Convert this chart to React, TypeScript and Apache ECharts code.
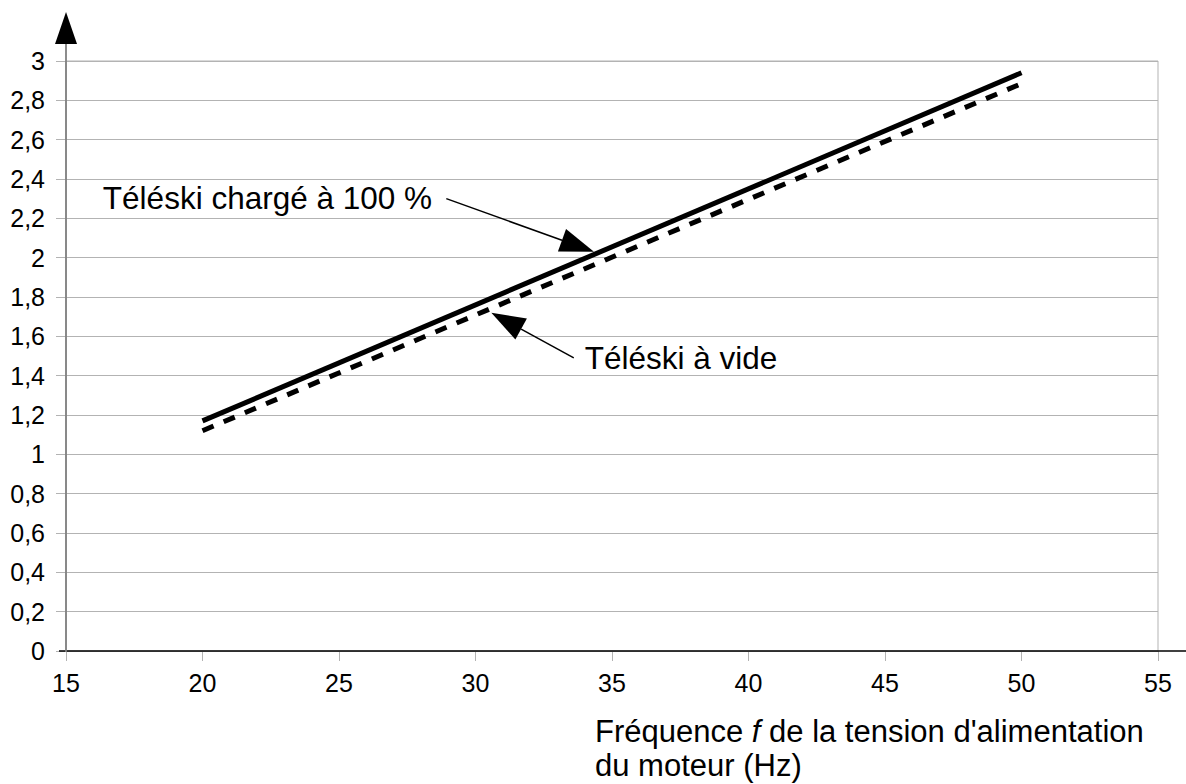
import React, { useEffect, useRef } from "react";
import * as echarts from "echarts";

// Data
const freqValues = [20, 50];
const loadedValues = [1.17, 2.94];
const emptyValues = [1.12, 2.885];

const xMin = 15;
const xMax = 55;
const xStep = 5;
const yMin = 0;
const yMax = 3;
const yStep = 0.2;

const axisTitleParts = ["Fréquence ", "f", " de la tension d'alimentation"];
const axisTitleLine2 = "du moteur (Hz)";

const loadedLabel = "Téléski chargé à 100 %";
const emptyLabel = "Téléski à vide";
// annotation anchors in data coordinates: text start, arrow tail, arrow tip
const loadedText = [16.35, 2.3];
const loadedTail = [28.93, 2.3];
const loadedTip = [34.34, 2.03];
const emptyText = [34.0, 1.49];
const emptyTail = [33.6, 1.49];
const emptyTip = [30.58, 1.72];

const FONT = "'Liberation Sans', Arial, sans-serif";

function fmt(v: number) {
  return String(Math.round(v * 10) / 10).replace(".", ",");
}

export default function App() {
  const ref = useRef<HTMLDivElement>(null);
  useEffect(() => {
    if (!ref.current) return;
    const chart = echarts.init(ref.current, null, { renderer: "svg" });
    chart.setOption({
      animation: false,
      backgroundColor: "#ffffff",
      grid: {
        left: 66,
        right: 28,
        top: 61,
        bottom: 133,
        show: true,
        borderColor: "#b3b3b3",
        borderWidth: 1,
        containLabel: false,
      },
      xAxis: {
        type: "value",
        min: xMin,
        max: xMax,
        interval: xStep,
        axisLine: { show: false },
        axisTick: { show: true, length: 10, lineStyle: { color: "#b3b3b3", width: 1 } },
        axisLabel: {
          color: "#000",
          fontSize: 25,
          fontFamily: FONT,
          margin: 19,
          showMinLabel: true,
          showMaxLabel: true,
        },
        splitLine: { show: false },
      },
      yAxis: {
        type: "value",
        min: yMin,
        max: yMax,
        interval: yStep,
        axisLine: { show: false },
        axisTick: { show: true, length: 10, lineStyle: { color: "#b3b3b3", width: 1 } },
        axisLabel: {
          color: "#000",
          fontSize: 25,
          fontFamily: FONT,
          margin: 21,
          formatter: (v: number) => fmt(v),
          showMinLabel: true,
          showMaxLabel: true,
        },
        splitLine: { show: true, lineStyle: { color: "#b3b3b3", width: 1 } },
      },
      series: [
        {
          type: "line",
          name: "vide",
          data: freqValues.map((x, i) => [x, emptyValues[i]]),
          showSymbol: false,
          symbol: "none",
          lineStyle: { color: "#000", width: 5, type: [12, 11], cap: "butt" },
          z: 3,
        },
        {
          type: "line",
          name: "charge",
          data: freqValues.map((x, i) => [x, loadedValues[i]]),
          showSymbol: false,
          symbol: "none",
          lineStyle: { color: "#000", width: 5, type: "solid" },
          z: 4,
        },
      ],
    });

    const px = (p: number[]) => chart.convertToPixel({ gridIndex: 0 }, p) as number[];

    const arrow = (tailD: number[], tipD: number[]) => {
      const a = px(tailD);
      const t = px(tipD);
      const dx = t[0] - a[0];
      const dy = t[1] - a[1];
      const len = Math.sqrt(dx * dx + dy * dy);
      const ux = dx / len;
      const uy = dy / len;
      const headLen = 34;
      const halfW = 12;
      const bx = t[0] - ux * headLen;
      const by = t[1] - uy * headLen;
      const nx = -uy;
      const ny = ux;
      return [
        {
          type: "line",
          shape: { x1: a[0], y1: a[1], x2: bx, y2: by },
          style: { stroke: "#000", lineWidth: 1.5 },
          z: 10,
        },
        {
          type: "polygon",
          shape: {
            points: [
              [t[0], t[1]],
              [bx + nx * halfW, by + ny * halfW],
              [bx - nx * halfW, by - ny * halfW],
            ],
          },
          style: { fill: "#000" },
          z: 10,
        },
      ];
    };

    const origin = px([xMin, yMin]);
    const top = px([xMin, yMax]);
    const width = chart.getWidth();

    const loadedTextPx = px(loadedText);
    const emptyTextPx = px(emptyText);

    chart.setOption({
      graphic: [
        // x axis line (black), extended to the right edge
        {
          type: "line",
          shape: { x1: origin[0] - 7, y1: origin[1], x2: width, y2: origin[1] },
          style: { stroke: "#000", lineWidth: 1.5 },
          z: 20,
        },
        // y axis line (gray) extended to the arrow
        {
          type: "line",
          shape: { x1: origin[0], y1: origin[1] + 1, x2: origin[0], y2: top[1] - 17 },
          style: { stroke: "#808080", lineWidth: 1.8 },
          z: 20,
        },
        {
          type: "polygon",
          shape: {
            points: [
              [origin[0], top[1] - 49],
              [origin[0] - 11, top[1] - 17],
              [origin[0] + 11, top[1] - 17],
            ],
          },
          style: { fill: "#000" },
          z: 20,
        },
        ...arrow(loadedTail, loadedTip),
        ...arrow(emptyTail, emptyTip),
        {
          type: "text",
          x: loadedTextPx[0],
          y: loadedTextPx[1] - 1,
          style: {
            text: loadedLabel,
            fill: "#000",
            fontSize: 31.5,
            fontFamily: FONT,
            align: "left",
            verticalAlign: "middle",
          },
          z: 10,
        },
        {
          type: "text",
          x: emptyTextPx[0],
          y: emptyTextPx[1],
          style: {
            text: emptyLabel,
            fill: "#000",
            fontSize: 31.5,
            fontFamily: FONT,
            align: "left",
            verticalAlign: "middle",
          },
          z: 10,
        },
        {
          type: "text",
          x: 595,
          y: 716,
          style: {
            text: "{n|" + axisTitleParts[0] + "}{i|" + axisTitleParts[1] + "}{n|" + axisTitleParts[2] + "}",
            fill: "#000",
            fontSize: 31,
            fontFamily: FONT,
            align: "left",
            verticalAlign: "top",
            lineHeight: 31,
            rich: {
              n: { fontSize: 31, fontFamily: FONT, fill: "#000", lineHeight: 31 },
              i: { fontSize: 31, fontFamily: FONT, fontStyle: "italic", fill: "#000", lineHeight: 31 },
            },
          },
          z: 10,
        },
        {
          type: "text",
          x: 595,
          y: 750,
          style: {
            text: axisTitleLine2,
            fill: "#000",
            fontSize: 31,
            fontFamily: FONT,
            align: "left",
            verticalAlign: "top",
            lineHeight: 31,
          },
          z: 10,
        },
      ],
    });

    return () => chart.dispose();
  }, []);

  return (
    <div
      ref={ref}
      style={{ position: "fixed", left: 0, top: 0, width: 1186, height: 784, background: "#fff" }}
    />
  );
}
